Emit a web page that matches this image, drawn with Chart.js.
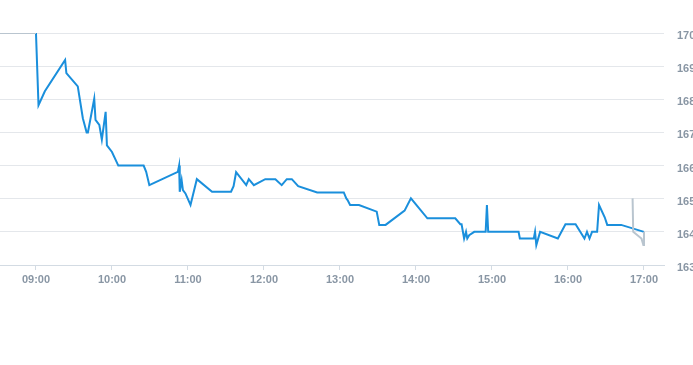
<!DOCTYPE html>
<html>
<head>
<meta charset="utf-8">
<script src="https://cdn.jsdelivr.net/npm/chart.js@4/dist/chart.umd.min.js"></script>
<style>
  html, body { margin: 0; padding: 0; background: #fff; }
  #wrap { width: 693px; height: 365px; }
</style>
</head>
<body>
<div id="wrap"><canvas id="priceChart" width="693" height="365"></canvas></div>
<script>
// intraday session
const sessionTimes = [
  '09:00', '09:02', '09:07', '09:23', '09:24', '09:33', '09:37', '09:40', '09:41', '09:46',
  '09:47', '09:50', '09:52', '09:55', '09:56', '10:00', '10:05', '10:25', '10:27', '10:29:30',
  '10:52', '10:53', '10:53:30', '10:55', '10:56', '10:58', '11:02', '11:07', '11:19', '11:34',
  '11:36', '11:38', '11:46', '11:48', '11:52', '12:01', '12:09', '12:14', '12:18', '12:22',
  '12:27', '12:42', '13:03', '13:05', '13:06', '13:08', '13:15', '13:29', '13:31', '13:36',
  '13:51', '13:56', '14:09', '14:31', '14:35', '14:36', '14:38', '14:39:30', '14:40:30', '14:42',
  '14:46', '14:55', '14:56', '14:57', '15:21', '15:22', '15:33', '15:34', '15:35', '15:38',
  '15:52', '15:58', '16:06', '16:13', '16:15', '16:17', '16:19', '16:23', '16:24:30', '16:29',
  '16:31', '16:42', '17:00'
];
const sessionPrices = [
  170.0, 167.82, 168.24, 169.19, 168.79, 168.39, 167.43, 167.0, 167.0, 168.02,
  167.38, 167.23, 166.78, 167.62, 166.61, 166.41, 166.0, 166.0, 165.81, 165.41,
  165.81, 166.0, 165.21, 165.56, 165.26, 165.16, 164.81, 165.59, 165.21, 165.21,
  165.38, 165.8, 165.41, 165.59, 165.41, 165.59, 165.59, 165.41, 165.59, 165.59,
  165.38, 165.19, 165.19, 165.01, 164.96, 164.81, 164.81, 164.61, 164.21, 164.21,
  164.64, 165.01, 164.41, 164.41, 164.23, 164.23, 163.8, 164.0, 163.8, 163.9,
  164.0, 164.0, 164.81, 164.0, 164.0, 163.8, 163.8, 164.0, 163.6, 164.0,
  163.8, 164.23, 164.23, 163.8, 164.0, 163.8, 164.0, 164.0, 164.81, 164.44,
  164.21, 164.21, 164.0
];

// pre-market / after-hours (grey)
const preTimes = ['08:30', '09:00'];
const prePrices = [170.0, 170.0];
const postTimes = ['16:51', '16:51:30', '16:58', '16:59:30', '17:00'];
const postPrices = [165.01, 164.0, 163.8, 163.6, 164.0];

const xTickLabels = ['09:00', '10:00', '11:00', '12:00', '13:00', '14:00', '15:00', '16:00', '17:00'];
const yTicks = [163, 164, 165, 166, 167, 168, 169, 170];

const X_MIN = 511.6;   // ~08:31.6
const X_MAX = 1035.8;  // ~17:15.8

const LABEL_COLOR = '#8996a4';
const GRID_COLOR = '#e4e7eb';
const AXIS_COLOR = '#d3dbe3';

// 'HH:MM' or 'HH:MM:SS' -> minutes since midnight
function toMinutes(t) {
  const p = t.split(':').map(Number);
  return p[0] * 60 + p[1] + (p[2] || 0) / 60;
}

function fmtMinutes(v) {
  const h = Math.floor(v / 60);
  const m = Math.round(v - h * 60);
  return String(h).padStart(2, '0') + ':' + String(m).padStart(2, '0');
}

function toPoints(times, values) {
  return times.map((t, i) => ({ x: toMinutes(t), y: values[i] }));
}

const ctx = document.getElementById('priceChart').getContext('2d');
new Chart(ctx, {
  type: 'line',
  data: {
    datasets: [
      {
        data: toPoints(preTimes, prePrices),
        borderColor: '#b9c5cf',
        borderWidth: 2,
        pointRadius: 0
      },
      {
        data: toPoints(postTimes, postPrices),
        borderColor: '#b9c5cf',
        borderWidth: 2,
        pointRadius: 0
      },
      {
        data: toPoints(sessionTimes, sessionPrices),
        borderColor: '#1a8fdc',
        borderWidth: 2,
        pointRadius: 0
      }
    ]
  },
  options: {
    responsive: false,
    animation: false,
    devicePixelRatio: 1,
    layout: { padding: { top: 33, left: 0, right: 0, bottom: 0 } },
    plugins: {
      legend: { display: false },
      tooltip: { enabled: false }
    },
    elements: { line: { tension: 0 } },
    scales: {
      x: {
        type: 'linear',
        min: X_MIN,
        max: X_MAX,
        afterBuildTicks: (scale) => {
          scale.ticks = xTickLabels.map(l => ({ value: toMinutes(l) }));
        },
        afterFit: (scale) => { scale.height = 100; },
        ticks: {
          callback: (v) => fmtMinutes(v),
          color: LABEL_COLOR,
          font: { size: 11, weight: 'bold' },
          padding: 3,
          maxRotation: 0,
          autoSkip: false
        },
        grid: {
          drawOnChartArea: false,
          tickLength: 5,
          tickColor: AXIS_COLOR
        },
        border: { color: AXIS_COLOR }
      },
      y: {
        position: 'right',
        min: yTicks[0],
        max: yTicks[yTicks.length - 1],
        afterBuildTicks: (scale) => {
          scale.ticks = yTicks.map(v => ({ value: v }));
        },
        afterFit: (scale) => { scale.width = 29; },
        ticks: {
          color: LABEL_COLOR,
          font: { size: 11, weight: 'bold' },
          padding: 13,
          labelOffset: 3
        },
        grid: { color: GRID_COLOR, drawTicks: false },
        border: { display: false }
      }
    }
  }
});
</script>
</body>
</html>
